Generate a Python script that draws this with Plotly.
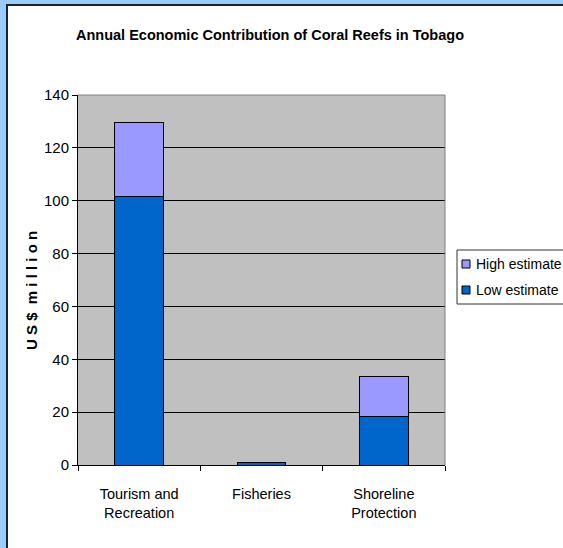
import plotly.graph_objects as go

categories = ["Tourism and<br>Recreation", "Fisheries", "Shoreline<br>Protection"]
low_estimate = [101.5, 0.8, 18.2]
high_extra = [28.2, 0.3, 15.3]
y_ticks = [0, 20, 40, 60, 80, 100, 120, 140]
legend_names = ["High estimate", "Low estimate"]
legend_colors = ["#9999FF", "#0066CC"]

W, H = 563, 548
L, R, T, B = 78, 118, 95, 83
pw, ph = W - L - R, H - T - B
FONT = "Liberation Sans, Arial, sans-serif"

def px(x):
    return (x - L) / pw

def py(y):
    return (H - B - y) / ph

fig = go.Figure()
fig.add_trace(go.Bar(x=categories, y=low_estimate, name="Low estimate", showlegend=False,
                     marker=dict(color="#0066CC", line=dict(color="#000000", width=1))))
fig.add_trace(go.Bar(x=categories, y=high_extra, name="High estimate", showlegend=False,
                     marker=dict(color="#9999FF", line=dict(color="#000000", width=1))))

shapes = [
    # outer frame
    dict(type="rect", xref="paper", yref="paper", x0=px(0), x1=px(6), y0=py(H), y1=py(0),
         fillcolor="#99CCFF", line=dict(width=0), layer="above"),
    dict(type="rect", xref="paper", yref="paper", x0=px(0), x1=px(W), y0=py(4), y1=py(0),
         fillcolor="#99CCFF", line=dict(width=0), layer="above"),
    dict(type="rect", xref="paper", yref="paper", x0=px(6), x1=px(8), y0=py(H), y1=py(4),
         fillcolor="#222222", line=dict(width=0), layer="above"),
    dict(type="rect", xref="paper", yref="paper", x0=px(6), x1=px(W), y0=py(6), y1=py(4),
         fillcolor="#222222", line=dict(width=0), layer="above"),
    # plot-area border (top/right gray)
    dict(type="line", xref="paper", yref="paper", x0=0, x1=1, y0=1, y1=1,
         line=dict(color="#808080", width=1), layer="above"),
    dict(type="line", xref="paper", yref="paper", x0=1, x1=1, y0=0, y1=1,
         line=dict(color="#808080", width=1), layer="above"),
    # legend box
    dict(type="rect", xref="paper", yref="paper", x0=px(457), x1=px(580), y0=py(304), y1=py(250),
         fillcolor="white", line=dict(color="#333333", width=1), layer="above"),
]
annotations = []
legend_rows = [264, 290]
for name, color, yc in zip(legend_names, legend_colors, legend_rows):
    shapes.append(dict(type="rect", xref="paper", yref="paper", x0=px(462), x1=px(470),
                       y0=py(yc + 4), y1=py(yc - 4), fillcolor=color,
                       line=dict(color="#000000", width=1), layer="above"))
    annotations.append(dict(text=name, xref="paper", yref="paper", x=px(474), y=py(yc),
                            xanchor="left", yanchor="middle", showarrow=False,
                            font=dict(size=14, family=FONT)))

annotations.append(dict(text="<b>U S $  m i l l i o n</b>", xref="paper", yref="paper",
                        x=px(31), y=py(291), xanchor="center", yanchor="middle",
                        textangle=-90, showarrow=False, font=dict(size=15, family=FONT)))

fig.update_layout(
    width=W, height=H,
    margin=dict(l=L, r=R, t=T, b=B, autoexpand=False),
    barmode="stack",
    bargap=0.6,
    paper_bgcolor="white",
    plot_bgcolor="#C0C0C0",
    font=dict(family=FONT, size=14, color="black"),
    title=dict(text="<b>Annual Economic Contribution of Coral Reefs in Tobago</b>",
               xref="container", yref="container",
               x=270 / W, xanchor="center", y=1 - 35 / H, yanchor="middle",
               font=dict(size=14.5, family=FONT)),
    showlegend=False,
    shapes=shapes,
    annotations=annotations,
)
fig.update_yaxes(range=[0, 140], tickvals=y_ticks, showgrid=True, gridcolor="black", gridwidth=1,
                 showline=True, linecolor="black", linewidth=1, ticks="outside", ticklen=5,
                 tickcolor="black", zeroline=False, tickfont=dict(size=15))
fig.update_xaxes(showline=True, linecolor="black", linewidth=1, ticks="outside", ticklen=5,
                 tickcolor="black", tickson="boundaries", mirror=False, ticklabelstandoff=16,
                 tickfont=dict(size=14.5))

fig.write_html("out.html", config={"displayModeBar": False},
               post_script="document.body.style.margin='0';")
